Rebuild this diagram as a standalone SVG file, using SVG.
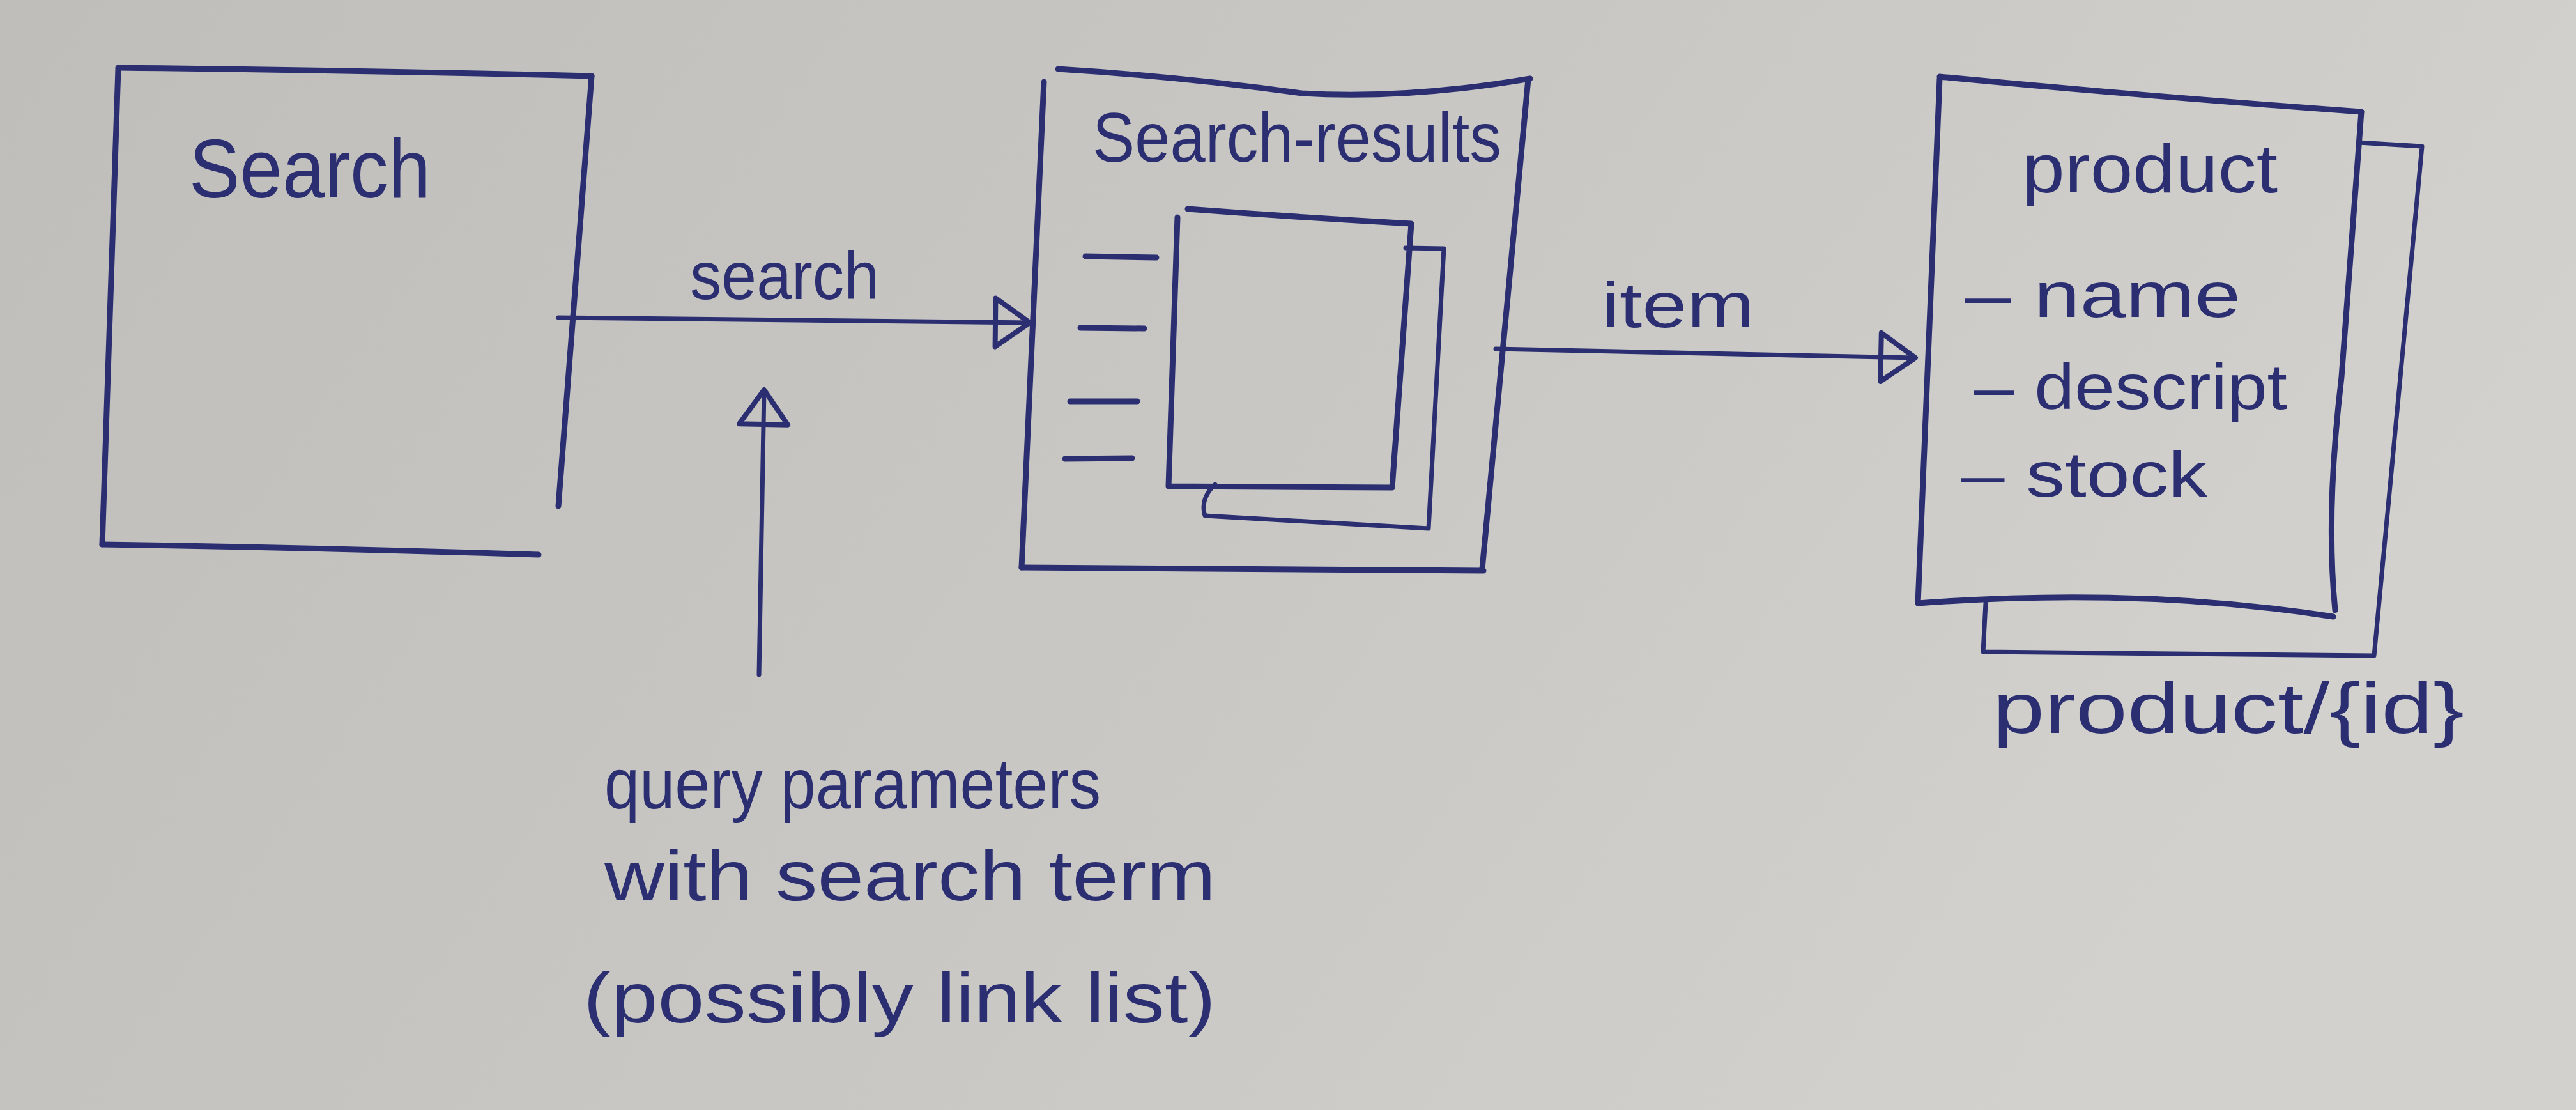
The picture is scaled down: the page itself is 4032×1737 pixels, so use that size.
<svg xmlns="http://www.w3.org/2000/svg" width="4032" height="1737" viewBox="0 0 4032 1737">
  <defs>
    <linearGradient id="paper" x1="0" y1="0" x2="1" y2="0.3">
      <stop offset="0" stop-color="#bfbebb"/>
      <stop offset="0.6" stop-color="#c9c8c5"/>
      <stop offset="1" stop-color="#d2d1ce"/>
    </linearGradient>
    <marker id="head" markerUnits="userSpaceOnUse" markerWidth="80" markerHeight="100" refX="56" refY="40" orient="auto" viewBox="-8 -8 80 100">
      <path d="M2,2 L56,40 L2,78 Z" fill="none" stroke="#2b2e70" stroke-width="8" stroke-linejoin="round"/>
    </marker>
    <style>
      .ink { fill: none; stroke: #2b2e70; stroke-width: 9; stroke-linecap: round; stroke-linejoin: round; }
      .thin { fill: none; stroke: #2b2e70; stroke-width: 7; stroke-linecap: round; stroke-linejoin: round; }
      .txt { fill: #2b2e70; font-family: "Liberation Sans", Arial, sans-serif; }
    </style>
  </defs>

  <rect x="0" y="0" width="4032" height="1737" fill="url(#paper)"/>

  <g id="search">
    <path class="ink" d="M185,106 Q560,110 926,119"/>
    <path class="ink" d="M926,119 L874,792"/>
    <path class="ink" d="M185,108 L160,852"/>
    <path class="ink" d="M160,852 Q500,857 843,868"/>
    <text class="txt" x="296" y="309" font-size="130" textLength="378" lengthAdjust="spacingAndGlyphs">Search</text>
  </g>

  <g id="search-results">
    <path class="ink" d="M1656,108 Q1850,120 2038,146 Q2200,156 2395,123"/>
    <path class="ink" d="M1634,128 L1599,888"/>
    <path class="ink" d="M2392,124 L2320,890"/>
    <path class="ink" d="M1599,888 L2322,893"/>
    <text class="txt" x="1710" y="253" font-size="110" textLength="640" lengthAdjust="spacingAndGlyphs">Search-results</text>
    <path class="ink" d="M1699,401 L1810,403"/>
    <path class="ink" d="M1691,513 L1791,514"/>
    <path class="ink" d="M1675,628 L1780,628"/>
    <path class="ink" d="M1667,718 L1772,717"/>
    <path class="thin" d="M2200,388 L2260,389 L2236,827 L1886,807 Q1878,780 1902,758"/>
    <path class="ink" d="M1859,327 Q2030,340 2209,350 L2179,763 L1829,761 L1843,340"/>
  </g>

  <g id="product">
    <path class="thin" d="M3692,223 L3791,229 L3716,1026 L3104,1020 L3108,944"/>
    <path class="ink" d="M3036,120 Q3350,150 3696,175"/>
    <path class="ink" d="M3036,123 L3002,944"/>
    <path class="ink" d="M3696,175 L3665,590 Q3640,800 3655,955"/>
    <path class="ink" d="M3002,944 Q3350,918 3652,965"/>
    <text class="txt" x="3165" y="301" font-size="108" textLength="400" lengthAdjust="spacingAndGlyphs">product</text>
    <text class="txt" x="3076" y="496" font-size="100" textLength="431" lengthAdjust="spacingAndGlyphs" xml:space="preserve">– name</text>
    <text class="txt" x="3090" y="640" font-size="100" textLength="490" lengthAdjust="spacingAndGlyphs" xml:space="preserve">– descript</text>
    <text class="txt" x="3070" y="777" font-size="100" textLength="385" lengthAdjust="spacingAndGlyphs" xml:space="preserve">– stock</text>
    <text class="txt" x="3119" y="1147" font-size="112" textLength="738" lengthAdjust="spacingAndGlyphs">product/{id}</text>
  </g>

  <g id="query-note">
    <text class="txt" x="946" y="1265" font-size="112" textLength="777" lengthAdjust="spacingAndGlyphs">query parameters</text>
    <text class="txt" x="946" y="1409" font-size="112" textLength="957" lengthAdjust="spacingAndGlyphs">with search term</text>
    <text class="txt" x="913" y="1600" font-size="112" textLength="990" lengthAdjust="spacingAndGlyphs">(possibly link list)</text>
  </g>

  <g id="connectors">
    <path class="thin" d="M874,497 L1612,505" marker-end="url(#head)"/>
    <text class="txt" x="1080" y="468" font-size="105" textLength="296" lengthAdjust="spacingAndGlyphs">search</text>
    <path class="thin" d="M2341,546 L2998,560" marker-end="url(#head)"/>
    <text class="txt" x="2507" y="512" font-size="100" textLength="239" lengthAdjust="spacingAndGlyphs">item</text>
    <path class="thin" d="M1188,1056 L1196,610" marker-end="url(#head)"/>
  </g>
</svg>
